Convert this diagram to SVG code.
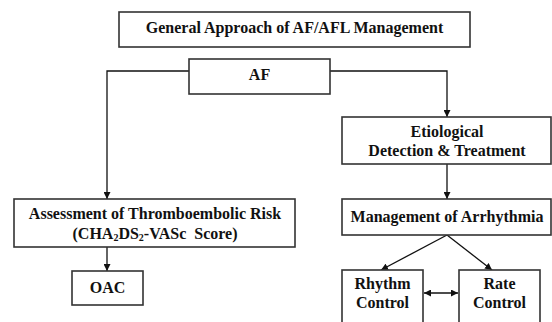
<svg xmlns="http://www.w3.org/2000/svg" width="552" height="322" viewBox="0 0 552 322">
<defs>
<style>
.box{fill:#fff;stroke:#333;stroke-width:1.6}
.t{font-family:"Liberation Serif","Times New Roman",serif;font-weight:bold;font-size:16px;fill:#111;text-anchor:middle}
.c{fill:none;stroke:#111;stroke-width:1.3}
.sub{font-size:10px}
</style>
<marker id="ah" viewBox="0 0 10 10" refX="10" refY="5" markerWidth="7" markerHeight="7" markerUnits="userSpaceOnUse" orient="auto-start-reverse">
<path d="M0,0 L10,5 L0,10 z" fill="#111"/>
</marker>
</defs>
<rect width="552" height="322" fill="#fff"/>
<g id="connectors">
<polyline class="c" points="189,71 107,71 107,199" marker-end="url(#ah)"/>
<polyline class="c" points="330,71 447,71 447,117" marker-end="url(#ah)"/>
<line class="c" x1="447" y1="164" x2="447" y2="199" marker-end="url(#ah)"/>
<line class="c" x1="107" y1="247" x2="107" y2="271" marker-end="url(#ah)"/>
<line class="c" x1="447" y1="235" x2="381" y2="270" marker-end="url(#ah)"/>
<line class="c" x1="447" y1="235" x2="492" y2="270" marker-end="url(#ah)"/>
<line class="c" x1="424" y1="293" x2="458" y2="293" marker-start="url(#ah)" marker-end="url(#ah)"/>
</g>
<g id="title">
<rect class="box" x="119" y="12" width="351" height="35"/>
<text class="t" x="294.5" y="33">General Approach of AF/AFL Management</text>
</g>
<g id="af">
<rect class="box" x="189" y="59" width="141" height="35"/>
<text class="t" x="259.5" y="80">AF</text>
</g>
<g id="etiological">
<rect class="box" x="342" y="117" width="209" height="47"/>
<text class="t" x="447" y="137">Etiological</text>
<text class="t" x="447" y="156">Detection &amp; Treatment</text>
</g>
<g id="assessment">
<rect class="box" x="14" y="199" width="281" height="48"/>
<text class="t" x="155" y="219">Assessment of Thromboembolic Risk</text>
<text class="t" x="155" y="239">(CHA<tspan class="sub" dy="2">2</tspan><tspan dy="-2">DS</tspan><tspan class="sub" dy="2">2</tspan><tspan dy="-2">-VASc&#160; Score)</tspan></text>
</g>
<g id="management">
<rect class="box" x="342" y="199" width="209" height="36"/>
<text class="t" x="447" y="222">Management of Arrhythmia</text>
</g>
<g id="oac">
<rect class="box" x="72" y="271" width="71" height="34"/>
<text class="t" x="107.5" y="293">OAC</text>
</g>
<g id="rhythm">
<rect class="box" x="342" y="270" width="81" height="60"/>
<text class="t" x="382.5" y="289">Rhythm</text>
<text class="t" x="382.5" y="308">Control</text>
</g>
<g id="rate">
<rect class="box" x="459" y="270" width="81" height="60"/>
<text class="t" x="499.5" y="289">Rate</text>
<text class="t" x="499.5" y="308">Control</text>
</g>
</svg>
